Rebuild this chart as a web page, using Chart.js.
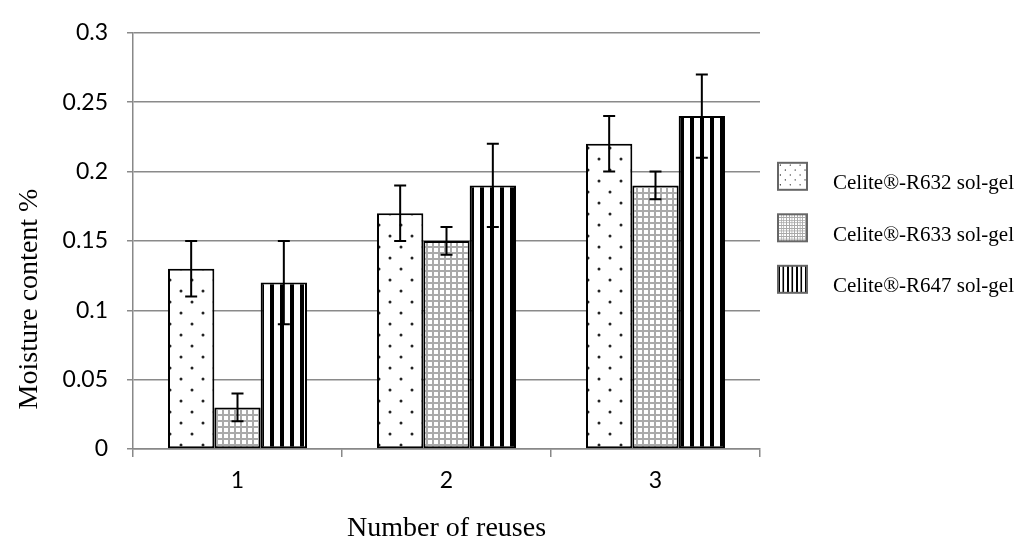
<!DOCTYPE html>
<html>
<head>
<meta charset="utf-8">
<script src="https://cdn.jsdelivr.net/npm/chart.js@4/dist/chart.umd.min.js"></script>
<style>
  html, body { margin: 0; padding: 0; background: #fff; }
  #grafico-box { width: 1021px; height: 548px; }
</style>
</head>
<body>
<div id="grafico-box"><canvas id="grafico"></canvas></div>
<script>
// Datos del grafico
const categorias = ["1", "2", "3"];
const serieNombres = ["Celite®-R632 sol-gel", "Celite®-R633 sol-gel", "Celite®-R647 sol-gel"];
const valoresR632 = [0.13, 0.17, 0.22];
const valoresR633 = [0.03, 0.15, 0.19];
const valoresR647 = [0.12, 0.19, 0.24];
const erroresR632 = [0.02, 0.02, 0.02];
const erroresR633 = [0.01, 0.01, 0.01];
const erroresR647 = [0.03, 0.03, 0.03];
const yTickLabels = ["0", "0.05", "0.1", "0.15", "0.2", "0.25", "0.3"];
const tituloY = "Moisture content %";
const tituloX = "Number of reuses";

// Patrones de relleno
function patronPuntos() {
  const c = document.createElement("canvas");
  c.width = 22; c.height = 22;
  const ctx = c.getContext("2d");
  ctx.fillStyle = "#fff";
  ctx.fillRect(0, 0, 22, 22);
  ctx.fillStyle = "#222";
  [[5, 5], [16, 16]].forEach(([x, y]) => {
    ctx.beginPath();
    ctx.arc(x, y, 1.5, 0, Math.PI * 2);
    ctx.fill();
  });
  return ctx.createPattern(c, "repeat");
}

function patronCuadricula() {
  const c = document.createElement("canvas");
  c.width = 6; c.height = 6;
  const ctx = c.getContext("2d");
  ctx.fillStyle = "#fff";
  ctx.fillRect(0, 0, 6, 6);
  ctx.fillStyle = "#aaa";
  ctx.fillRect(0, 0, 6, 2);
  ctx.fillRect(0, 0, 2, 6);
  return ctx.createPattern(c, "repeat");
}

function patronRayas() {
  const c = document.createElement("canvas");
  c.width = 10; c.height = 10;
  const ctx = c.getContext("2d");
  ctx.fillStyle = "#fff";
  ctx.fillRect(0, 0, 10, 10);
  ctx.fillStyle = "#000";
  ctx.fillRect(0, 0, 4, 10);
  return ctx.createPattern(c, "repeat");
}

const errores = [erroresR632, erroresR633, erroresR647];

// Barras de error
const pluginErrores = {
  id: "barrasError",
  afterDatasetsDraw(chart) {
    const ctx = chart.ctx;
    const y = chart.scales.y;
    ctx.save();
    ctx.strokeStyle = "#000";
    ctx.lineWidth = 2;
    chart.data.datasets.forEach((ds, i) => {
      const meta = chart.getDatasetMeta(i);
      meta.data.forEach((bar, j) => {
        const v = ds.data[j];
        const e = errores[i][j];
        const yTop = y.getPixelForValue(v + e);
        const yBot = y.getPixelForValue(v - e);
        ctx.beginPath();
        ctx.moveTo(bar.x, yTop);
        ctx.lineTo(bar.x, yBot);
        ctx.moveTo(bar.x - 6, yTop);
        ctx.lineTo(bar.x + 6, yTop);
        ctx.moveTo(bar.x - 6, yBot);
        ctx.lineTo(bar.x + 6, yBot);
        ctx.stroke();
      });
    });
    ctx.restore();
  },
};

// Titulos de ejes y leyenda
const pluginTextos = {
  id: "textos",
  afterDraw(chart) {
    const ctx = chart.ctx;
    const area = chart.chartArea;
    ctx.save();
    ctx.fillStyle = "#000";
    ctx.font = "28px 'Liberation Serif'";
    ctx.textAlign = "center";
    ctx.textBaseline = "middle";
    ctx.fillText(tituloX, (area.left + area.right) / 2, area.bottom + 80);
    ctx.translate(30, 299);
    ctx.rotate(-Math.PI / 2);
    ctx.fillText(tituloY, 0, 0);
    ctx.restore();

    // leyenda
    ctx.save();
    ctx.font = "21px 'Liberation Serif'";
    ctx.textBaseline = "middle";
    ctx.textAlign = "left";
    chart.data.datasets.forEach((ds, i) => {
      const cy = area.top + 151 + i * 51.5;
      const bx = area.right + 18;
      const by = cy - 21;
      ctx.save();
      ctx.translate(bx, by);
      ctx.scale(0.45, 0.45);
      ctx.fillStyle = ds.backgroundColor;
      ctx.fillRect(0, 0, 29 / 0.45, 27 / 0.45);
      ctx.restore();
      ctx.strokeStyle = "#666";
      ctx.lineWidth = 2;
      ctx.strokeRect(bx, by, 29, 27);
      ctx.fillStyle = "#000";
      ctx.fillText(ds.label, area.right + 73, cy);
    });
    ctx.restore();
  },
};

const datos = [valoresR632, valoresR633, valoresR647];
const rellenos = [patronPuntos(), patronCuadricula(), patronRayas()];

new Chart(document.getElementById("grafico"), {
  type: "bar",
  data: {
    labels: categorias,
    datasets: datos.map((d, i) => ({
      label: serieNombres[i],
      data: d,
      backgroundColor: rellenos[i],
      borderColor: "#000",
      borderWidth: 2,
      borderSkipped: false,
      categoryPercentage: 0.665,
      barPercentage: 1,
    })),
  },
  options: {
    responsive: true,
    maintainAspectRatio: false,
    animation: false,
    layout: { padding: { left: 0, top: 24, right: 261, bottom: 0 } },
    plugins: {
      legend: { display: false },
      tooltip: { enabled: false },
    },
    scales: {
      x: {
        afterFit: (s) => { s.height = 99; },
        grid: { offset: true, drawOnChartArea: false, color: "#888", tickLength: 8, lineWidth: 1.5 },
        border: { color: "#888", width: 1.5 },
        ticks: { color: "#000", font: { family: "Lato", size: 23 }, padding: 10 },
      },
      y: {
        min: 0,
        max: 0.3,
        afterFit: (s) => { s.width = 133; },
        grid: { color: "#8a8a8a", tickLength: 6, lineWidth: 1.5 },
        border: { color: "#888", width: 1.5 },
        ticks: {
          stepSize: 0.05,
          color: "#000",
          font: { family: "Lato", size: 23 },
          padding: 19,
          callback: (v, i) => yTickLabels[i],
        },
      },
    },
  },
  plugins: [pluginErrores, pluginTextos],
});
</script>
</body>
</html>
